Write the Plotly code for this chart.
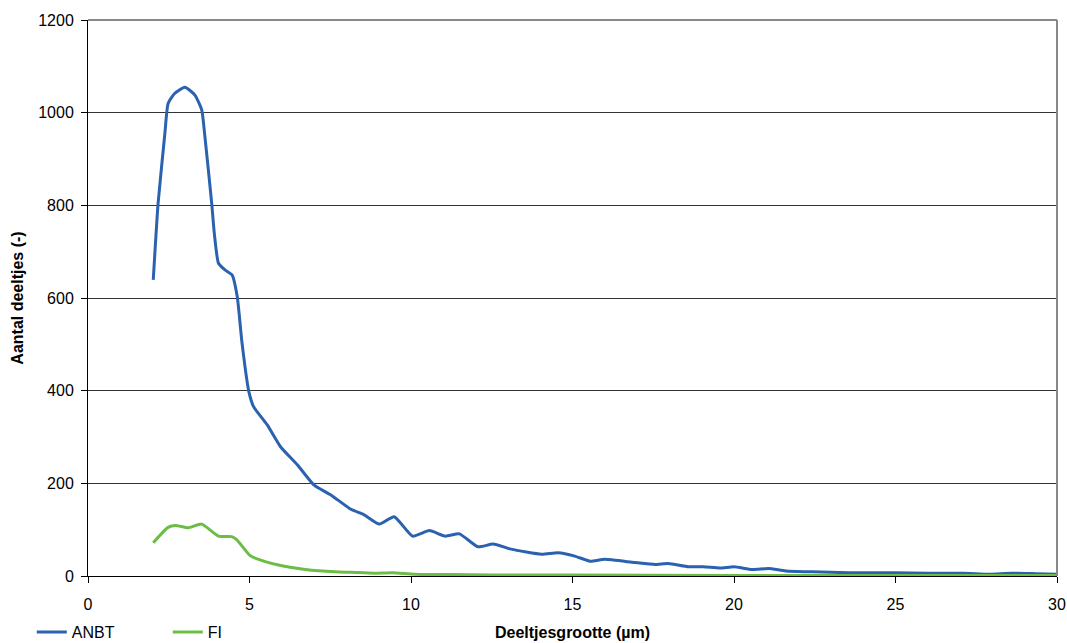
import plotly.graph_objects as go

anbt_x = [2.02, 2.17, 2.38, 2.48, 2.69, 3.0, 3.31, 3.52, 3.62, 3.83, 3.91, 4.04, 4.25, 4.46, 4.62, 4.77,
          4.98, 5.13, 5.55, 5.96, 6.48, 7.0, 7.52, 8.14, 8.55, 9.02, 9.48, 10.05, 10.57, 11.06, 11.5,
          12.07, 12.54, 13.1, 14.04, 14.55, 15.07, 15.54, 16.0, 16.93, 17.56, 17.97, 18.59, 19.06,
          19.57, 20.0, 20.56, 21.07, 21.6, 22.42, 23.56, 25.0, 26.0, 27.1, 27.9, 28.6, 29.35, 30.0]
anbt_y = [639, 804, 955, 1020, 1042, 1055, 1038, 1006, 948, 804, 740, 675, 660, 650, 603, 502,
          398, 365, 326, 279, 240, 196, 175, 144, 132, 112, 128, 86, 98, 86, 91,
          63, 69, 58, 47, 50, 43, 32, 36, 29, 25, 27, 20, 20,
          17, 20, 14, 16, 11, 9, 7, 7, 6, 6, 4, 6, 5, 4]

fi_x = [2.02, 2.48, 2.71, 3.1, 3.52, 4.04, 4.45, 4.61, 5.02, 5.49, 6.0, 6.73, 7.66, 8.14, 8.86,
        9.43, 10.1, 11.2, 12.5, 15.0, 20.0, 25.0, 30.0]
fi_y = [72, 105, 109, 104, 112, 86, 85, 78, 44, 31, 22, 14, 9, 8, 6,
        7, 4, 3, 2, 2, 1, 1, 1]

x_ticks = [0, 5, 10, 15, 20, 25, 30]
y_ticks = [0, 200, 400, 600, 800, 1000, 1200]

fig = go.Figure()
fig.add_trace(go.Scatter(x=anbt_x, y=anbt_y, name="ANBT", mode="lines",
                         line=dict(color="#2a62b0", width=3, shape="spline", smoothing=0.5)))
fig.add_trace(go.Scatter(x=fi_x, y=fi_y, name="FI", mode="lines",
                         line=dict(color="#6cbd45", width=3, shape="spline", smoothing=0.5)))

fig.update_layout(
    width=1067, height=643,
    margin=dict(l=88, r=10, t=20, b=67, autoexpand=False),
    plot_bgcolor="white", paper_bgcolor="white",
    font=dict(family="Liberation Sans, Arial, sans-serif", size=16, color="#000"),
    showlegend=True,
    legend=dict(orientation="h", x=-0.058, xanchor="left", y=-0.101, yanchor="middle",
                font=dict(size=16), itemwidth=30, entrywidth=91, tracegroupgap=0,
                bgcolor="rgba(0,0,0,0)"),
    xaxis=dict(range=[0, 30], tickvals=x_ticks, showgrid=False, showline=True, linecolor="#000",
               linewidth=1, ticks="outside", ticklen=6, tickcolor="#000", zeroline=False,
               automargin=False, tickfont=dict(size=16), ticklabelstandoff=8,
               title=dict(text="<b>Deeltjesgrootte (µm)</b>", font=dict(size=16), standoff=14)),
    yaxis=dict(range=[0, 1200], tickvals=y_ticks, showgrid=True, gridcolor="#333", gridwidth=1,
               showline=True, linecolor="#000", linewidth=1, ticks="outside", ticklen=6,
               tickcolor="#000", zeroline=False, automargin=False, tickfont=dict(size=16),
               ticklabelstandoff=4,
               title=dict(text="<b>Aantal deeltjes (-)</b>", font=dict(size=16), standoff=10)),
)
fig.add_shape(type="line", xref="paper", yref="paper", x0=1, x1=1, y0=0, y1=1,
              line=dict(color="#888", width=2))
fig.add_shape(type="line", xref="paper", yref="paper", x0=0, x1=1, y0=1, y1=1,
              line=dict(color="#888", width=2))

fig.write_html("out.html")
